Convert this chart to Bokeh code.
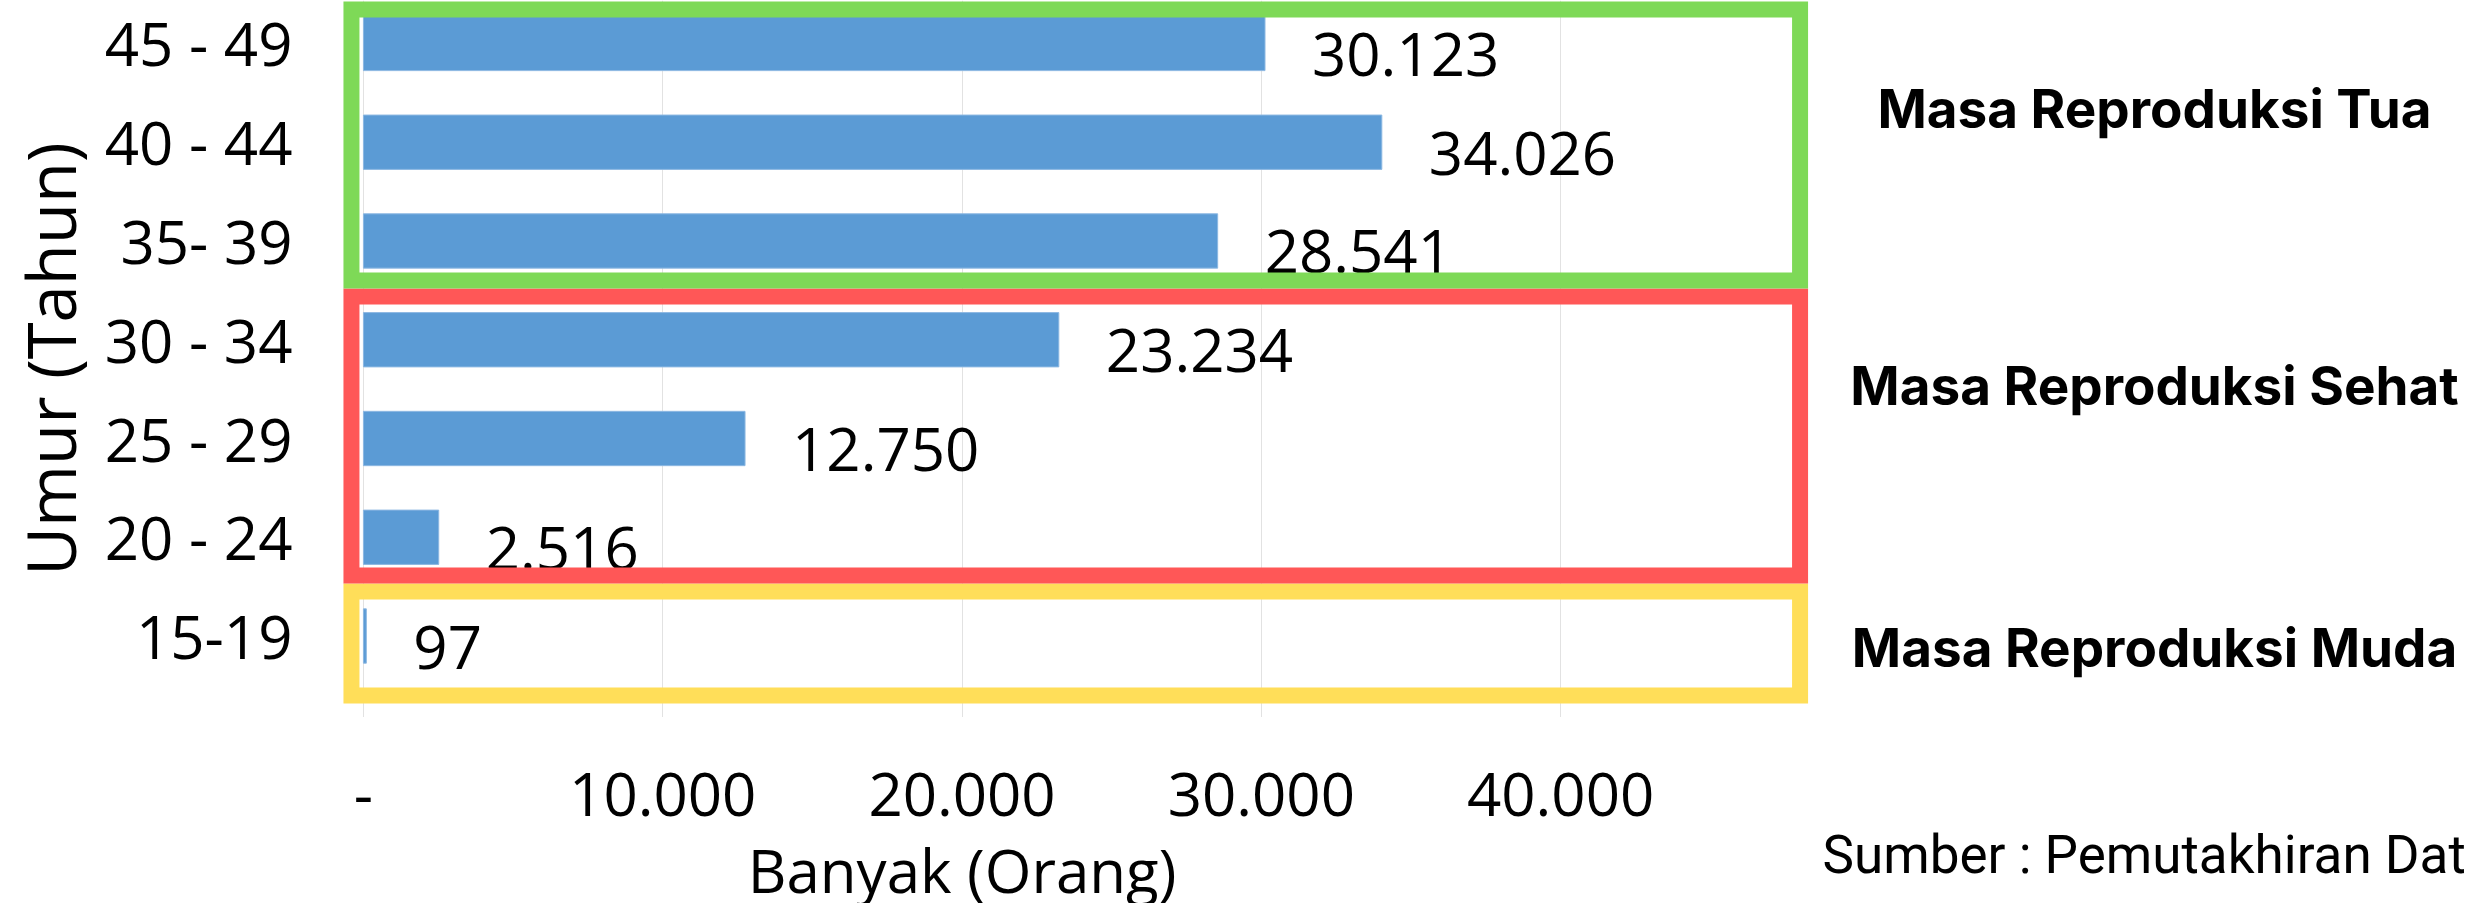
from bokeh.plotting import figure
from bokeh.layouts import column
from bokeh.models import Range1d, FixedTicker, Label, ColumnDataSource
from bokeh.embed import file_html
from bokeh.resources import INLINE
from bokeh.core.properties import value

# ---------------- data ----------------
age_groups = ["15-19", "20 - 24", "25 - 29", "30 - 34", "35- 39", "40 - 44", "45 - 49"]
counts = [97, 2516, 12750, 23234, 28541, 34026, 30123]
x_tick_values = [0, 10000, 20000, 30000, 40000]
x_tick_labels = ["-", "10.000", "20.000", "30.000", "40.000"]
group_names = ["Masa Reproduksi Muda", "Masa Reproduksi Sehat", "Masa Reproduksi Tua"]
x_title = "Banyak (Orang)"
y_title = "Umur (Tahun)"
source_note = "Sumber : Pemutakhiran Dat"

# ---------------- style / layout ----------------
W = 2470
H1, H2 = 717, 186
LEFT = 328
BAR_COLOR = "#5B9BD5"
group_colors = ["#FFDE59", "#FF5757", "#7ED957"]
group_box_y = [(-0.603, 0.451), (0.613, 3.438), (3.600, 6.344)]   # (bottom, top) in data units
box_x = (-400, 48000)
group_label_xy = [(1821, 70), (1821, 332), (1821, 609)]           # screen px from frame bottom-left
FONT = "Open Sans"

x_range = Range1d(-1000, 70400)
positions = list(range(len(age_groups)))
labels = [f"{v:,}".replace(",", ".") for v in counts]
src = ColumnDataSource(dict(pos=positions, val=counts, label=labels))

# ---------- main chart ----------
p = figure(width=W, height=H1, output_backend="svg", toolbar_location=None,
           x_range=x_range, y_range=Range1d(-0.825, 6.435), x_axis_location=None,
           min_border_left=LEFT, min_border_right=0, min_border_top=0,
           min_border_bottom=0)
p.outline_line_color = None

p.hbar(y="pos", left=0, right="val", height=0.55, source=src,
       fill_color=BAR_COLOR, line_color="#8DB8E2", line_width=1)

p.text(x="val", y="pos", text="label", source=src, x_offset=47, y_offset=11,
       text_align="left", text_baseline="middle", text_font=value(FONT),
       text_font_size="60px", text_color="#000000")

for (b, t), c in zip(group_box_y, group_colors):
    p.quad(left=[box_x[0]], right=[box_x[1]], bottom=[b], top=[t],
           fill_color=None, line_color=c, line_width=16, line_join="miter")

p.yaxis.ticker = FixedTicker(ticks=positions)
p.yaxis.major_label_overrides = {i: s for i, s in zip(positions, age_groups)}
p.yaxis.axis_line_color = None
p.yaxis.major_tick_line_color = None
p.yaxis.minor_tick_line_color = None
p.yaxis.major_tick_out = 0
p.yaxis.major_tick_in = 0
p.yaxis.major_label_text_font = FONT
p.yaxis.major_label_text_font_size = "60px"
p.yaxis.major_label_text_color = "#000000"
p.yaxis.major_label_standoff = 41
p.yaxis.axis_label = y_title
p.yaxis.axis_label_text_font = FONT
p.yaxis.axis_label_text_font_size = "67px"
p.yaxis.axis_label_text_font_style = "normal"
p.yaxis.axis_label_text_color = "#000000"
p.yaxis.axis_label_standoff = 6

p.xgrid.ticker = FixedTicker(ticks=x_tick_values)
p.xgrid.grid_line_color = "#E2E2E2"
p.xgrid.grid_line_width = 1
p.ygrid.visible = False

for name, (x, y) in zip(group_names, group_label_xy):
    p.add_layout(Label(x=x, y=y, x_units="screen", y_units="screen", text=name,
                       text_align="center", text_baseline="middle", text_font="Inter",
                       text_font_size="53px", text_font_style="bold", text_color="#000000"))

# ---------- x axis + bottom texts ----------
q = figure(width=W, height=H2, output_backend="svg", toolbar_location=None,
           x_range=x_range, y_range=Range1d(0, 1), x_axis_location="above",
           y_axis_location=None, min_border_left=LEFT, min_border_right=0,
           min_border_top=85, min_border_bottom=0)
q.outline_line_color = None
q.xgrid.visible = False
q.ygrid.visible = False
q.xaxis.ticker = FixedTicker(ticks=x_tick_values)
q.xaxis.major_label_overrides = {v: s for v, s in zip(x_tick_values, x_tick_labels)}
q.xaxis.axis_line_color = None
q.xaxis.major_tick_line_color = None
q.xaxis.minor_tick_line_color = None
q.xaxis.major_tick_out = 0
q.xaxis.major_tick_in = 0
q.xaxis.major_label_text_font = FONT
q.xaxis.major_label_text_font_size = "60px"
q.xaxis.major_label_text_color = "#000000"
q.xaxis.major_label_standoff = -13

q.add_layout(Label(x=20000, y=34, x_units="data", y_units="screen", text=x_title,
                   text_align="center", text_baseline="alphabetic", text_font=FONT,
                   text_font_size="60px", text_color="#000000"))
q.add_layout(Label(x=1489, y=49, x_units="screen", y_units="screen", text=source_note,
                   text_align="left", text_baseline="alphabetic", text_font="Roboto",
                   text_font_size="53px", text_color="#000000"))

layout = column(p, q, spacing=0)
open("out.html", "w").write(file_html(layout, INLINE))
